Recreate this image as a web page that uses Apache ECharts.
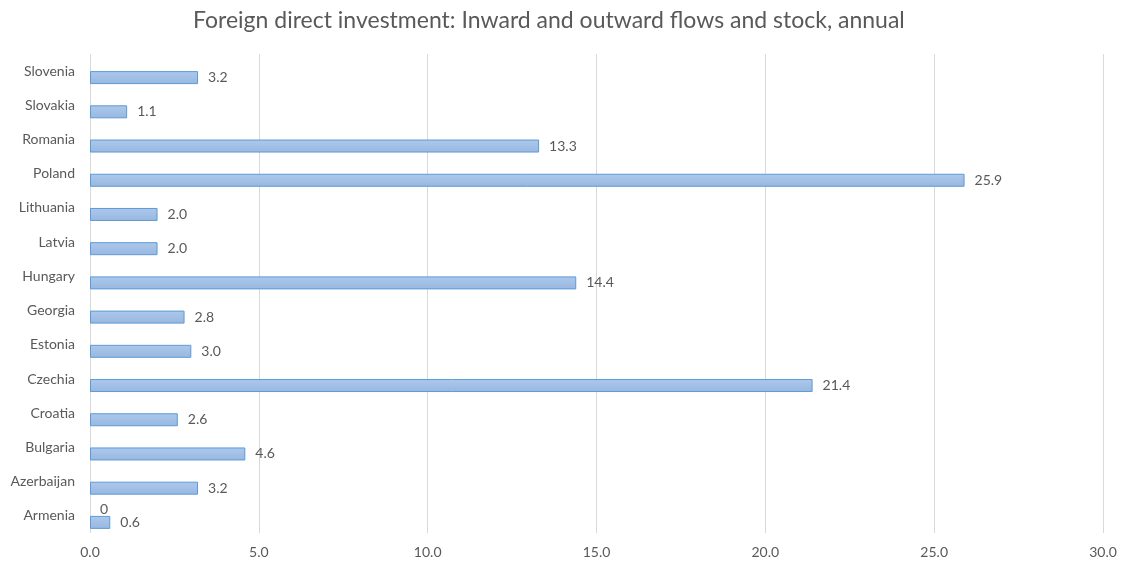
<!DOCTYPE html>
<html>
<head>
<meta charset="utf-8">
<script src="https://cdn.jsdelivr.net/npm/echarts@6/dist/echarts.min.js"></script>
<style>
  html, body { margin: 0; padding: 0; background: #fff; }
  #chart { width: 1123px; height: 562px; }
</style>
</head>
<body>
<div id="chart"></div>
<script>
// Countries, bottom to top on the category axis
const countries = ['Armenia', 'Azerbaijan', 'Bulgaria', 'Croatia', 'Czechia', 'Estonia', 'Georgia',
  'Hungary', 'Latvia', 'Lithuania', 'Poland', 'Romania', 'Slovakia', 'Slovenia'];
// Second series: only Armenia carries a (zero) value
const seriesA = [0, null, null, null, null, null, null, null, null, null, null, null, null, null];
// Main series values
const seriesB = [0.6, 3.2, 4.6, 2.6, 21.4, 3.0, 2.8, 14.4, 2.0, 2.0, 25.9, 13.3, 1.1, 3.2];
const xTicks = { min: 0, max: 30, interval: 5 };

const font = 'Lato, "Open Sans", sans-serif';
const grey = '#595959';

const chart = echarts.init(document.getElementById('chart'), null, { renderer: 'canvas' });

const labelStyle = {
  show: true,
  position: 'right',
  distance: 10,
  color: grey,
  fontFamily: font,
  fontSize: 14,
  formatter: p => (p.value == null ? '' : p.value === 0 ? '0' : p.value.toFixed(1))
};

chart.setOption({
  animation: false,
  title: {
    text: 'Foreign direct investment: Inward and outward flows and stock, annual',
    left: 188,
    top: 4,
    textStyle: { color: grey, fontFamily: font, fontSize: 23, fontWeight: 'normal' }
  },
  grid: { left: 90, right: 20, top: 54, bottom: 29, containLabel: false },
  xAxis: {
    type: 'value',
    min: xTicks.min,
    max: xTicks.max,
    interval: xTicks.interval,
    axisLine: { show: false },
    axisTick: { show: false },
    splitLine: { show: true, lineStyle: { color: '#d9d9d9', width: 1 } },
    axisLabel: {
      color: grey, fontFamily: font, fontSize: 14, margin: 12,
      formatter: v => v.toFixed(1)
    }
  },
  yAxis: {
    type: 'category',
    data: countries,
    axisLine: { show: false },
    axisTick: { show: false },
    splitLine: { show: false },
    axisLabel: { color: grey, fontFamily: font, fontSize: 14, margin: 15 }
  },
  series: [
    {
      name: 'A',
      type: 'bar',
      data: seriesA,
      barWidth: 13,
      barGap: '0%',
      itemStyle: { color: '#a6c2e8', borderWidth: 0 },
      label: labelStyle
    },
    {
      name: 'B',
      type: 'bar',
      data: seriesB,
      barWidth: 13,
      barGap: '0%',
      itemStyle: {
        color: new echarts.graphic.LinearGradient(0, 0, 0, 1, [
          { offset: 0, color: '#adc8ec' },
          { offset: 1, color: '#98b7e0' }
        ]),
        borderColor: '#5b9bd5',
        borderWidth: 1
      },
      label: labelStyle
    }
  ]
});
</script>
</body>
</html>
